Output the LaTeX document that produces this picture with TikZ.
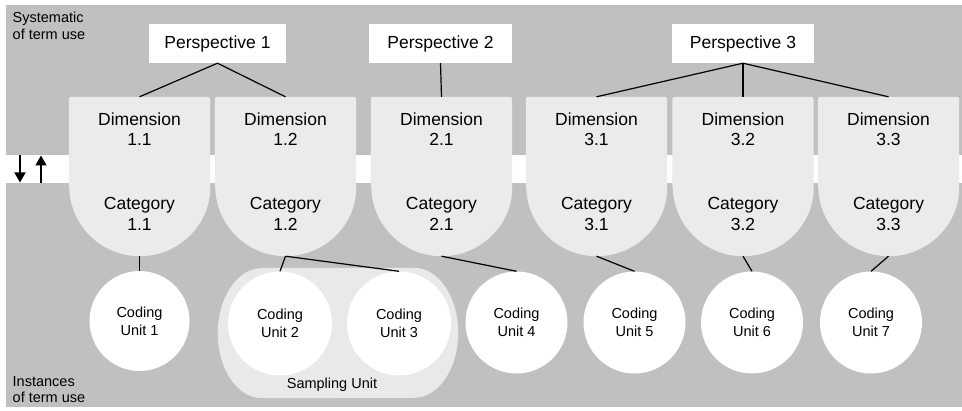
\documentclass[tikz,border=0pt]{standalone}
\usepackage{fontspec}
\setmainfont{Liberation Sans}
\usetikzlibrary{arrows.meta,calc}

\definecolor{bggray}{HTML}{C0C0C0}
\definecolor{dimgray}{HTML}{EBEBEB}
\definecolor{sugray}{HTML}{E9E9E9}

\tikzset{
  bigtxt/.style={align=center, inner sep=0pt, font=\fontsize{17.5}{20.5}\selectfont},
  smalltxt/.style={align=center, inner sep=0pt, font=\fontsize{14.5}{18}\selectfont},
  sidetxt/.style={align=left, inner sep=0pt, anchor=north west, font=\fontsize{14.5}{16.5}\selectfont},
  persp/.style={bigtxt, fill=white, minimum height=39pt},
  dimframe/.style={inner sep=0pt, minimum width=141pt, minimum height=159pt},
  dimfill/.style={fill=dimgray},
  cunit/.style={smalltxt, circle, fill=white, minimum size=102pt},
  sunit/.style={inner sep=0pt, minimum width=240pt, minimum height=130pt},
  conn/.style={draw=black, line width=1.2pt},
  flow/.style={draw=black, line width=1.5pt, -{Triangle[width=11pt,length=10pt]}}
}

% dimension/category block: name, x position, number
\newcommand\dimcat[3]{%
  \node[dimframe] (#1) at (#2,233.5) {};
  \fill[dimfill, rounded corners=2.5pt]
    ([yshift=70.5pt]#1.south west) -- (#1.north west) -- (#1.north east)
    -- ([yshift=70.5pt]#1.south east) [sharp corners]
    arc[start angle=0, end angle=-180, radius=70.5pt] -- cycle;
  \node[bigtxt] (#1-dim) at (#2,281) {Dimension\\#3};
  \node[bigtxt] (#1-cat) at (#2,196) {Category\\#3};
}

\begin{document}
\begin{tikzpicture}[x=1pt, y=1pt]
  \useasboundingbox (0,0) rectangle (962,410);
  % background and the boundary band
  \fill[bggray] (6,3) rectangle (962,405);
  \fill[white] (6,227) rectangle (962,255);

  % side labels
  \node[sidetxt] (systematic) at (12.5,398) {Systematic\\of term use};
  \node[sidetxt] (instances) at (12.5,34) {Instances\\of term use};

  % direction arrows across the band
  \coordinate (dnA) at (20,255);
  \coordinate (dnB) at (20,227.5);
  \coordinate (upA) at (41,227);
  \coordinate (upB) at (41,254.5);
  \draw[flow] (dnA) -- (dnB);
  \draw[flow] (upA) -- (upB);

  % perspectives
  \node[persp, minimum width=137pt] (p1) at (217.5,366.5) {Perspective 1};
  \node[persp, minimum width=143pt] (p2) at (440.5,366.5) {Perspective 2};
  \node[persp, minimum width=142pt] (p3) at (743,366.5) {Perspective 3};

  % dimensions with their categories
  \dimcat{d11}{139.5}{1.1}
  \dimcat{d12}{285.5}{1.2}
  \dimcat{d21}{441.5}{2.1}
  \dimcat{d31}{596.5}{3.1}
  \dimcat{d32}{743}{3.2}
  \dimcat{d33}{888.5}{3.3}

  % sampling unit: box with elliptic corners around coding units 2 and 3
  \node[sunit] (su) at (338,77) {};
  \fill[sugray]
    ([xshift=44pt]su.north west) -- ([xshift=-44pt]su.north east)
    arc[start angle=90, end angle=-90, x radius=44pt, y radius=65pt]
    -- ([xshift=44pt]su.south west)
    arc[start angle=270, end angle=90, x radius=44pt, y radius=65pt] -- cycle;
  \node[smalltxt] (sulabel) at (332,25) {Sampling Unit};

  % coding units
  \node[cunit, minimum size=100pt] (cu1) at (139.5,89) {Coding\\Unit 1};
  \node[cunit, minimum size=104pt] (cu2) at (280,86.5) {Coding\\Unit 2};
  \node[cunit, minimum size=104pt] (cu3) at (399,86.5) {Coding\\Unit 3};
  \node[cunit] (cu4) at (516.5,87.5) {Coding\\Unit 4};
  \node[cunit] (cu5) at (634.5,87.5) {Coding\\Unit 5};
  \node[cunit] (cu6) at (752,87.5) {Coding\\Unit 6};
  \node[cunit] (cu7) at (871,87.5) {Coding\\Unit 7};

  % connectors
  \draw[conn] (p1.south) -- (d11.north);
  \draw[conn] (p1.south) -- (d12.north);
  \draw[conn] (p2.south) -- (d21.north);
  \draw[conn] (p3.south) -- (d31.north);
  \draw[conn] (p3.south) -- (d32.north);
  \draw[conn] (p3.south) -- (d33.north);

  \draw[conn] (d11.south) -- (cu1.north);
  \draw[conn] (d12.south) -- (cu2.north);
  \draw[conn] (d12.south) -- (cu3.north);
  \draw[conn] (d21.south) -- (cu4.north);
  \draw[conn] (d31.south) -- (cu5.north);
  \draw[conn] (d32.south) -- (cu6.north);
  \draw[conn] (d33.south) -- (cu7.north);
\end{tikzpicture}
\end{document}
